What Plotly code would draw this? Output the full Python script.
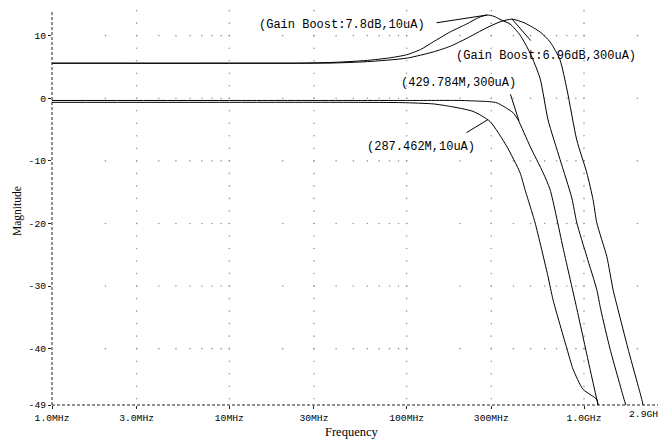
import numpy as np
import plotly.graph_objects as go

# ---------------- data ----------------
# Gain boost 7.8dB, 10uA
f_gb_10u = [1e6, 10e6, 25e6, 40e6, 60e6, 80e6, 100e6, 120e6, 141e6, 176e6, 219e6, 255e6, 284e6,
            310e6, 336e6, 383e6, 436e6, 497e6, 565e6, 627e6, 733e6, 853e6, 911e6, 1.037e9,
            1.181e9, 1.244e9, 1.404e9, 1.683e9, 1.72e9]
db_gb_10u = [5.6, 5.6, 5.62, 5.75, 6.05, 6.45, 6.95, 7.8, 9.0, 10.6, 11.9, 12.9, 13.3,
             13.1, 12.6, 11.85, 10.1, 7.2, 3.2, -3.46, -9.8, -15.9, -19.9, -25.3,
             -30.6, -33.8, -40.1, -48.1, -49.0]

# Gain boost 6.96dB, 300uA
f_gb_300u = [1e6, 10e6, 37e6, 60e6, 100e6, 141e6, 176e6, 219e6, 280e6, 336e6, 393e6, 465e6,
             565e6, 644e6, 733e6, 803e6, 911e6, 1.037e9, 1.125e9, 1.181e9, 1.345e9, 1.459e9,
             1.557e9, 1.774e9, 2.118e9, 2.154e9]
db_gb_300u = [5.6, 5.6, 5.62, 5.85, 6.4, 7.4, 8.3, 9.6, 11.2, 12.2, 12.65, 12.0,
              10.6, 9.0, 6.1, 1.3, -6.7, -11.9, -16.2, -19.9, -25.3, -30.6,
              -33.8, -40.1, -48.1, -49.0]

# 429.784M, 300uA
f_lp_300u = [1e6, 10e6, 100e6, 200e6, 250e6, 295e6, 324e6, 398e6, 425e6, 497e6, 588e6, 644e6,
             766e6, 914e6, 1.082e9, 1.2e9]
db_lp_300u = [-0.35, -0.35, -0.35, -0.35, -0.45, -0.55, -0.75, -2.3, -3.46, -7.7, -11.9, -14.6,
              -24.2, -33.8, -43.3, -49.0]

# 287.462M, 10uA
f_lp_10u = [1e6, 10e6, 50e6, 95e6, 141e6, 176e6, 237e6, 295e6, 367e6, 436e6, 465e6, 484e6,
            530e6, 627e6, 669e6, 803e6, 868e6, 988e6, 1.181e9, 1.2e9]
db_lp_10u = [-0.65, -0.65, -0.65, -0.7, -0.9, -1.3, -2.1, -3.7, -7.7, -11.9, -14.6, -16.2,
             -19.9, -28.5, -32.2, -40.1, -43.3, -46.5, -48.1, -49.0]

x_tick_vals = [1e6, 3e6, 10e6, 30e6, 100e6, 300e6, 1e9]
x_tick_text = ["1.0MHz", "3.0MHz", "10MHz", "30MHz", "100MHz", "300MHz", "1.0GHz"]
x_last_label = "2.9GHz"
y_tick_vals = [10, 0, -10, -20, -30, -40, -49]
y_tick_text = ["10", "0", "-10", "-20", "-30", "-40", "-49"]
y_grid_major = [10, 0, -10, -20, -30, -40]
x_grid_major = [3e6, 10e6, 30e6, 100e6, 300e6, 1e9]

x_min, x_max = 1e6, 2.9e9
y_min, y_max = -49, 14.1

# labels: (text, text centre f, text centre dB, pointed f, pointed dB, leader tail offset px)
labels = [
    ("(Gain Boost:7.8dB,10uA)", 43.2e6, 11.7, 284e6, 13.3, (-52, 8)),
    ("(Gain Boost:6.96dB,300uA)", 607e6, 6.75, 393e6, 12.65, (20, 23)),
    ("(429.784M,300uA)", 196e6, 2.44, 429.784e6, -3.6, (-9, -28)),
    ("(287.462M,10uA)", 120.5e6, -7.77, 287.462e6, -3.4, (-23, 14)),
]

# ---------------- figure ----------------
fig = go.Figure()

# dotted grid made of single dots
gx, gy = [], []
for yv in y_grid_major:
    for d in range(6, 10):
        for k in range(1, 10):
            xv = k * 10 ** d
            if x_min < xv < x_max:
                gx.append(xv); gy.append(yv)
for xv in x_grid_major:
    for yv in np.arange(-48, 15, 2):
        gx.append(xv); gy.append(float(yv))
fig.add_trace(go.Scatter(x=gx, y=gy, mode="markers",
                         marker=dict(size=1.6, color="#9a9a9a", line=dict(width=0)),
                         hoverinfo="skip", showlegend=False))

for fx, dy in [(f_lp_10u, db_lp_10u), (f_lp_300u, db_lp_300u),
               (f_gb_10u, db_gb_10u), (f_gb_300u, db_gb_300u)]:
    fig.add_trace(go.Scatter(x=fx, y=dy, mode="lines",
                             line=dict(color="#000000", width=1, shape="spline", smoothing=0.6),
                             hoverinfo="skip", showlegend=False))

mono = "Liberation Mono"
serif = "Liberation Serif"

annotations = []
for text, tf, td, pf, pd_, (ax, ay) in labels:
    annotations.append(dict(x=np.log10(tf), y=td, xref="x", yref="y", text=text,
                            showarrow=False, font=dict(family=mono, size=12, color="#000"),
                            xanchor="center", yanchor="middle"))
    annotations.append(dict(x=np.log10(pf), y=pd_, xref="x", yref="y", text="",
                            showarrow=True, arrowhead=0, arrowwidth=1, arrowcolor="#000",
                            ax=ax, ay=ay))

annotations.append(dict(x=1, y=0, xref="paper", yref="paper", text=x_last_label,
                        showarrow=False, xanchor="right", yanchor="top", xshift=0, yshift=-2,
                        font=dict(family=mono, size=9.7, color="#000")))
annotations.append(dict(x=0.489, y=-0.068, xref="paper", yref="paper", text="Frequency",
                        showarrow=False, xanchor="center", yanchor="middle",
                        font=dict(family=serif, size=12.5, color="#000")))
annotations.append(dict(x=-0.057, y=0.491, xref="paper", yref="paper", text="Magnitude",
                        showarrow=False, xanchor="center", yanchor="middle", textangle=-90,
                        font=dict(family=serif, size=11.5, color="#000")))

shapes = [
    dict(type="line", xref="paper", yref="paper", x0=0, x1=0, y0=0, y1=1,
         line=dict(color="#222", width=1, dash="3px,2px")),
    dict(type="line", xref="paper", yref="paper", x0=0, x1=1, y0=0, y1=0,
         line=dict(color="#222", width=1, dash="3px,2px")),
]

# the page has an 8px body margin, so the figure is 8px smaller than the window
fig.update_layout(
    width=658, height=431,
    margin=dict(l=44, r=0, t=2, b=34),
    paper_bgcolor="white", plot_bgcolor="white",
    showlegend=False,
    annotations=annotations,
    shapes=shapes,
    xaxis=dict(type="log", range=[np.log10(x_min), np.log10(x_max)],
               tickvals=x_tick_vals, ticktext=x_tick_text,
               ticks="outside", ticklen=3, tickcolor="#222",
               showgrid=False, zeroline=False, showline=False,
               tickfont=dict(family=mono, size=9.7, color="#000")),
    yaxis=dict(range=[y_min, y_max], tickvals=y_tick_vals, ticktext=y_tick_text,
               ticks="outside", ticklen=3, tickcolor="#222",
               showgrid=False, zeroline=False, showline=False,
               tickfont=dict(family=mono, size=9.7, color="#000")),
)

fig.write_html("out.html")
